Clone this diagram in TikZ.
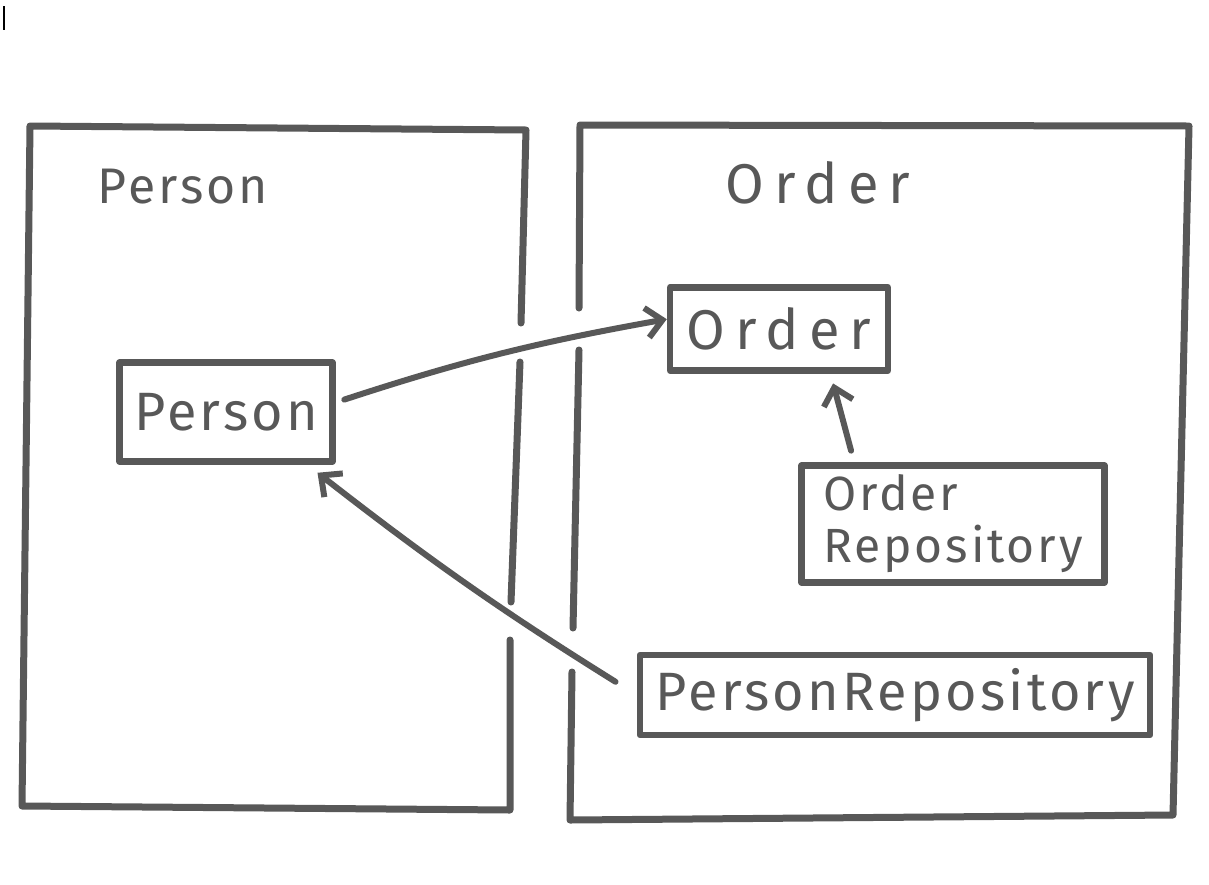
\documentclass[tikz,border=0pt]{standalone}
\usepackage{fontspec}
\setmainfont{Fira Sans}
\newfontfamily\hand[LetterSpace=6]{Fira Sans}
\newfontfamily\handwide[LetterSpace=18]{Fira Sans}
\usetikzlibrary{arrows.meta}
\definecolor{marker}{RGB}{88,88,88}
\begin{document}
\begin{tikzpicture}[x=1pt, y=-1pt,
    frame/.style={marker, line width=7pt, line cap=round, line join=round},
    box/.style={draw=marker, line width=6.5pt, line join=round, inner sep=0pt,
        font=\hand\fontsize{54}{56}\selectfont, text=marker, align=left},
    title/.style={font=\hand\fontsize{50}{56}\selectfont, text=marker},
    arrow/.style={marker, line width=6pt, line cap=round,
        -{Straight Barb[length=16pt, width=30pt, line width=6pt]}}]
    \useasboundingbox (0,0) rectangle (1209,884);

    % Person context
    \draw[frame] (521,323) -- (526,130) -- (30,126) -- (22,806) -- (510,810) -- (510,640);
    \draw[frame] (520,362) -- (511,602);
    \node[title] (ptitle) at (183,187) {Person};

    % Order context
    \draw[frame] (579,308) -- (580,125) -- (1189,126) -- (1173,815) -- (570,820) -- (572,672);
    \draw[frame] (579,350) -- (573,628);
    \node[title, font=\handwide\fontsize{56}{56}\selectfont] (otitle) at (818,183) {Order};

    % Classes
    \node[box, minimum width=213pt, minimum height=99pt] (person) at (226,412) {Person};
    \node[box, minimum width=218pt, minimum height=83pt,
        font=\handwide\fontsize{56}{56}\selectfont] (order) at (779,329) {Order};
    \node[box, minimum width=303pt, minimum height=117pt,
        font=\hand\fontsize{48}{52}\selectfont] (orepo) at (953,524) {Order\\Repository};
    \node[box, minimum width=510pt, minimum height=80pt] (prepo) at (895,695) {PersonRepository};

    % Dependencies
    \draw[arrow, shorten <=9pt] (person.5) to[bend left=4] (order.175);
    \draw[arrow, shorten <=12pt, shorten >=10pt] (orepo.148) -- (order.-41);
    \draw[arrow, shorten <=25pt, shorten >=13pt] (prepo.180) to[bend left=3] (person.-33);

    % scan mark
    \draw[black, line width=2pt] (4,6) -- (4,30);
\end{tikzpicture}
\end{document}
